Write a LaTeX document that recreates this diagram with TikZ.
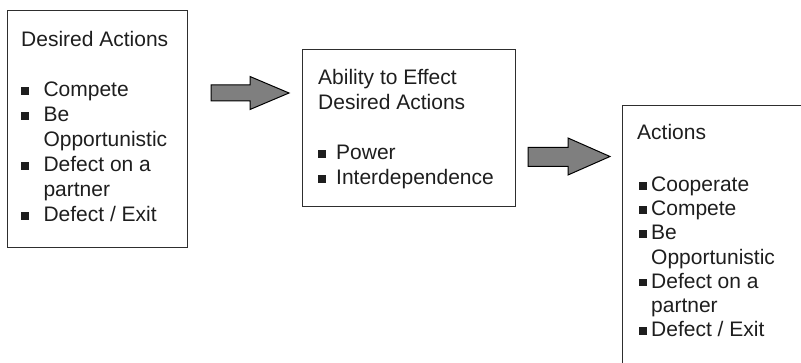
\documentclass[tikz,border=0pt]{standalone}
\usepackage{fontspec}
\setmainfont{Liberation Sans}
\usetikzlibrary{calc}
\definecolor{txt}{HTML}{1E1E1E}
\definecolor{edge}{HTML}{2E2E2E}
\definecolor{arrowfill}{HTML}{7F7F7F}
\newcommand\bl[2][0pt]{\hspace*{#1}\makebox[#2][l]{\raisebox{1.8pt}{\rule{7.8pt}{7.8pt}}}}
\newcommand\cont[1]{\hspace*{#1}}
\begin{document}
\begin{tikzpicture}[x=1pt,y=-1pt,
  box/.style={draw=edge, line width=1.2pt, anchor=north west, inner sep=0pt},
  body/.style={anchor=base west, inner sep=0pt, text=txt, font=\fontsize{21}{25}\selectfont},
  blockarrow/.style={draw=black, fill=arrowfill, line width=1pt, line join=miter}]
\clip (0,0) rectangle (801,363);
\useasboundingbox (0,0) rectangle (801,363);
% boxes
\node[box, minimum width=180pt, minimum height=237pt] (b1) at (7,10) {};
\node[box, minimum width=213pt, minimum height=157pt] (b2) at (302,49) {};
\node[box, minimum width=220pt, minimum height=300pt] (b3) at (622,105) {};
% texts
\node[body] (t1) at ($(b1.north west)+(14,37)$) {\begin{tabular}[t]{@{}l@{}}
Desired Actions\\
\\
\bl{22.3pt}Compete\\
\bl{22.3pt}Be\\
\cont{22.3pt}Opportunistic\\
\bl{22.3pt}Defect on a\\
\cont{22.3pt}partner\\
\bl{22.3pt}Defect / Exit
\end{tabular}};
\node[body] (t2) at ($(b2.north west)+(16,36)$) {\begin{tabular}[t]{@{}l@{}}
Ability to Effect\\
Desired Actions\\
\\
\bl{18pt}Power\\
\bl{18pt}Interdependence
\end{tabular}};
\node[body] (t3) at ($(b3.north west)+(15,35)$) {\begin{tabular}[t]{@{}l@{}}
Actions\\
\\[1.5pt]
\bl[2pt]{12pt}Cooperate\\[-0.8pt]
\bl[2pt]{12pt}Compete\\[-0.8pt]
\bl[2pt]{12pt}Be\\[-0.8pt]
\cont{14pt}Opportunistic\\[-0.8pt]
\bl[2pt]{12pt}Defect on a\\[-0.8pt]
\cont{14pt}partner\\[-0.8pt]
\bl[2pt]{12pt}Defect / Exit
\end{tabular}};
% block arrows
\draw[blockarrow] (211,85) -- (250,85) -- (250,76.5) -- (289,93) -- (250,109.5) -- (250,101) -- (211,101) -- cycle;
\draw[blockarrow] (528,147.5) -- (568,147.5) -- (568,138) -- (610,156.5) -- (568,175) -- (568,166.5) -- (528,166.5) -- cycle;
\end{tikzpicture}
\end{document}
